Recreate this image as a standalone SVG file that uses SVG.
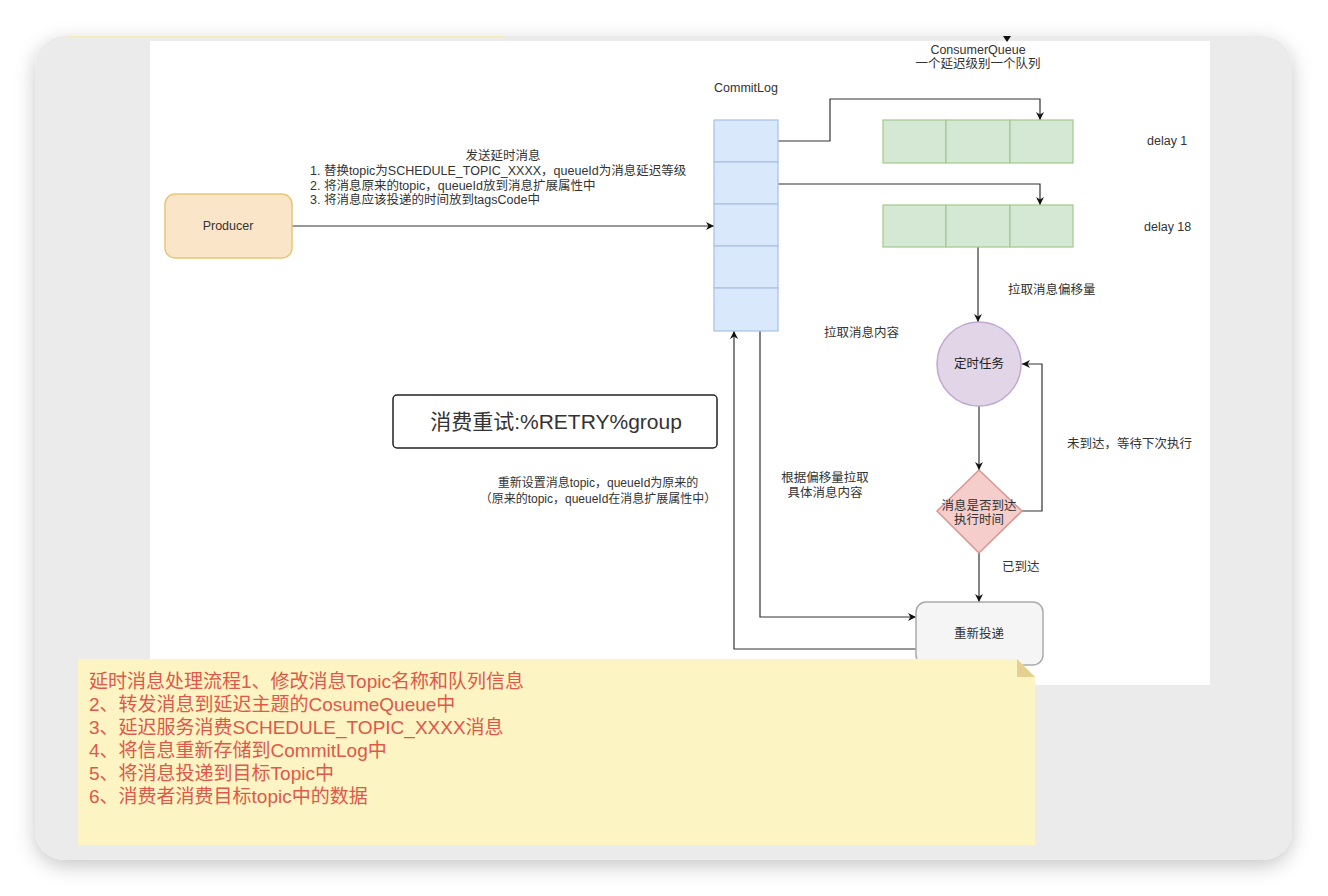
<svg xmlns="http://www.w3.org/2000/svg" width="1328" height="896" viewBox="0 0 1328 896">
<defs>
<filter id="sh" x="-10%" y="-10%" width="120%" height="125%">
<feDropShadow dx="0" dy="6" stdDeviation="10" flood-color="#000" flood-opacity="0.22"/>
</filter>
<marker id="arr" viewBox="0 0 10 10" refX="10" refY="5" markerWidth="8" markerHeight="8" orient="auto" markerUnits="userSpaceOnUse">
<path d="M0,0 L10,5 L0,10 L3,5 z" fill="#111"/>
</marker>
<style>
.t{font-family:"Liberation Sans","Noto Sans CJK SC",sans-serif;font-size:12.5px;fill:#333}
.c{text-anchor:middle}
.ln{fill:none;stroke:#333;stroke-width:1.2;marker-end:url(#arr)}
.cl{fill:#dae8fc;stroke:#a9c0e6;stroke-width:1.2}
.q{fill:#d5e8d4;stroke:#a3c98c;stroke-width:1.2}
.note{font-family:"Liberation Sans","Noto Sans CJK SC",sans-serif;font-size:19px;fill:#e0584a}
</style>
</defs>
<rect width="1328" height="896" fill="#fff"/>
<rect x="35" y="36" width="1257" height="824" rx="30" fill="#ebebeb" filter="url(#sh)"/>
<line x1="68" y1="36.5" x2="505" y2="36.5" stroke="#f3ebbf" stroke-width="1"/>
<rect x="150" y="41" width="1060" height="644" fill="#fff"/>
<polygon points="1003,36 1011,36 1007,42" fill="#111"/>

<g id="connectors">
<path class="ln" d="M292,226 H714"/>
<path class="ln" d="M778,141 H830 V99 H1040 V120"/>
<path class="ln" d="M778,184 H1040 V205"/>
<path class="ln" d="M978,247 V322"/>
<path class="ln" d="M979,406 V470"/>
<path class="ln" d="M1022,511 H1042 V364 H1022"/>
<path class="ln" d="M979,553 V602"/>
<path class="ln" d="M760,331 V617 H916"/>
<path class="ln" d="M916,649 H734 V331"/>
</g>

<g id="consumerqueue-label">
<text class="t c" x="978" y="54">ConsumerQueue</text>
<text class="t c" x="978" y="68">一个延迟级别一个队列</text>
</g>

<g id="producer">
<rect x="165" y="194" width="127" height="64" rx="10" fill="#fbe5c9" stroke="#e8c678" stroke-width="1.5"/>
<text class="t c" x="228" y="230">Producer</text>
</g>

<g id="send-label">
<text class="t c" x="503" y="160">发送延时消息</text>
<text class="t" x="310" y="175">1. 替换topic为SCHEDULE_TOPIC_XXXX，queueId为消息延迟等级</text>
<text class="t" x="310" y="190">2. 将消息原来的topic，queueId放到消息扩展属性中</text>
<text class="t" x="310" y="204">3. 将消息应该投递的时间放到tagsCode中</text>
</g>

<g id="commitlog">
<text class="t c" x="746" y="92">CommitLog</text>
<rect class="cl" x="714" y="120" width="64" height="42"/>
<rect class="cl" x="714" y="162" width="64" height="42"/>
<rect class="cl" x="714" y="204" width="64" height="42"/>
<rect class="cl" x="714" y="246" width="64" height="42"/>
<rect class="cl" x="714" y="288" width="64" height="43"/>
</g>

<g id="delay1">
<rect class="q" x="883" y="120" width="63" height="43"/>
<rect class="q" x="946" y="120" width="64" height="43"/>
<rect class="q" x="1010" y="120" width="63" height="43"/>
<text class="t" x="1147" y="145">delay 1</text>
</g>

<g id="delay18">
<rect class="q" x="883" y="205" width="63" height="42"/>
<rect class="q" x="946" y="205" width="64" height="42"/>
<rect class="q" x="1010" y="205" width="63" height="42"/>
<text class="t" x="1144" y="231">delay 18</text>
</g>

<g id="labels">
<text class="t" x="1008" y="294">拉取消息偏移量</text>
<text class="t" x="824" y="337">拉取消息内容</text>
<text class="t" x="1067" y="448">未到达，等待下次执行</text>
<text class="t c" x="825" y="482">根据偏移量拉取</text>
<text class="t c" x="825" y="497">具体消息内容</text>
<text class="t" x="1002" y="571">已到达</text>
<text class="t c" x="598" y="487" style="font-size:12px">重新设置消息topic，queueId为原来的</text>
<text class="t c" x="598" y="503" style="font-size:12px">（原来的topic，queueId在消息扩展属性中）</text>
</g>

<g id="timer">
<circle cx="979" cy="364" r="42" fill="#e1d5e7" stroke="#c0a8d0" stroke-width="1.5"/>
<text class="t c" x="979" y="368" style="fill:#222">定时任务</text>
</g>

<g id="check">
<polygon points="979,470 1022,511 979,553 937,511" fill="#f5cdca" stroke="#d99692" stroke-width="1.5"/>
<text class="t c" x="979" y="510">消息是否到达</text>
<text class="t c" x="979" y="524">执行时间</text>
</g>

<g id="redeliver">
<rect x="916" y="602" width="127" height="63" rx="10" fill="#f5f5f5" stroke="#aaa" stroke-width="1.5"/>
<text class="t c" x="979" y="638">重新投递</text>
</g>

<g id="retry">
<rect x="393" y="395" width="324" height="53" rx="4" fill="#fff" stroke="#222" stroke-width="1.5"/>
<text class="t c" x="556" y="429" style="font-size:21px;fill:#333">消费重试:%RETRY%group</text>
</g>

<g id="note">
<path d="M78,659 H1017 L1035,677 V845 H78 Z" fill="#fdf4c3"/>
<path d="M1017,659 L1017,677 L1035,677 Z" fill="#e4d18f"/>
<text class="note" x="89" y="688">延时消息处理流程1、修改消息Topic名称和队列信息</text>
<text class="note" x="89" y="711">2、转发消息到延迟主题的CosumeQueue中</text>
<text class="note" x="89" y="734">3、延迟服务消费SCHEDULE_TOPIC_XXXX消息</text>
<text class="note" x="89" y="757">4、将信息重新存储到CommitLog中</text>
<text class="note" x="89" y="780">5、将消息投递到目标Topic中</text>
<text class="note" x="89" y="803">6、消费者消费目标topic中的数据</text>
</g>
</svg>
